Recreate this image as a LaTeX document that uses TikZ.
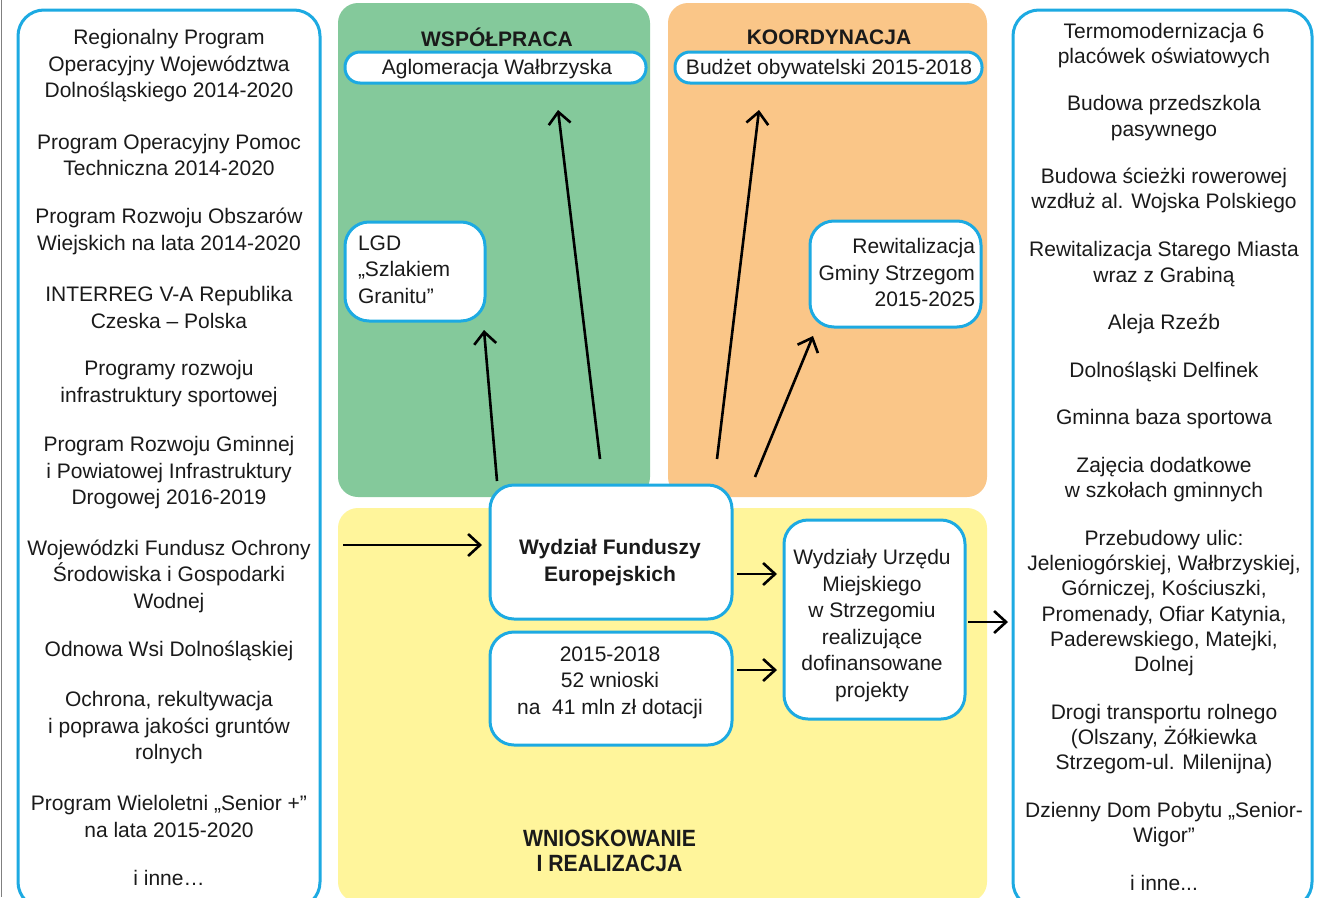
\documentclass[tikz,border=0pt]{standalone}
\usepackage{fontspec}
\usepackage{graphicx}
\setmainfont{Liberation Sans}
\usetikzlibrary{arrows.meta,calc}
\definecolor{cyanb}{HTML}{1DAAE2}
\definecolor{pgreen}{HTML}{84C99B}
\definecolor{porange}{HTML}{FAC688}
\definecolor{pyellow}{HTML}{FFF59B}
\definecolor{txtc}{HTML}{1A1A1A}
\begin{document}
\begin{tikzpicture}[x=1pt,y=-1pt,
  every node/.style={font=\fontsize{21}{26.5}\selectfont, inner sep=0pt, outer sep=0pt, text=txtc},
  panel/.style={rounded corners=20pt, minimum width=#1},
  bigbox/.style={draw=cyanb, line width=3pt, fill=white, rounded corners=26pt, minimum width=#1, minimum height=898pt},
  wbox/.style={draw=cyanb, line width=3pt, fill=white, rounded corners=24pt},
  pill/.style={draw=cyanb, line width=3pt, fill=white, rounded corners=15pt, minimum height=31pt},
  item/.style={align=center, yshift=-2pt},
  ritem/.style={align=center, yshift=-2pt, font=\fontsize{21}{25.2}\selectfont},
  ttl/.style={font=\fontsize{21}{26.5}\selectfont\bfseries, align=center},
  arr/.style={line width=2.6pt, -{Straight Barb[length=12pt,width=22pt]}}
]
\useasboundingbox (0,0) rectangle (1327,897);
\clip (0,0) rectangle (1327,897);
\fill[white] (0,0) rectangle (1327,897);
\draw[gray, line width=1.5pt] (1.5,0) -- (1.5,897);

% panels
\node[panel=312pt, fill=pgreen, minimum height=494pt] (pw) at (494,250) {};
\node[panel=319pt, fill=porange, minimum height=494pt] (pk) at (827.5,250) {};
\node[panel=649pt, fill=pyellow, minimum height=394pt] (pr) at (662.5,705) {};

% outer lists
\node[bigbox=302pt] (lbox) at (169,459) {};
\node[bigbox=299pt] (rbox) at (1162.5,459) {};

% left items
\node[item] (l1) at (169,63.7) {Regionalny Program\\Operacyjny Województwa\\Dolnośląskiego 2014-2020};
\node[item] (l2) at (169,153) {Program Operacyjny Pomoc\\Techniczna 2014-2020};
\node[item] (l3) at (169,229.5) {Program Rozwoju Obszarów\\Wiejskich na lata 2014-2020};
\node[item] (l4) at (169,305.5) {INTERREG V-A Republika\\Czeska – Polska};
\node[item] (l5) at (169,381.5) {Programy rozwoju\\infrastruktury sportowej};
\node[item] (l6) at (169,471) {Program Rozwoju Gminnej\\i Powiatowej Infrastruktury\\Drogowej 2016-2019};
\node[item] (l7) at (169,574) {Wojewódzki Fundusz Ochrony\\Środowiska i Gospodarki\\Wodnej};
\node[item] (l8) at (169,649) {Odnowa Wsi Dolnośląskiej};
\node[item] (l9) at (169,726) {Ochrona, rekultywacja\\i poprawa jakości gruntów\\rolnych};
\node[item] (l10) at (169,814.5) {Program Wieloletni „Senior +”\\na lata 2015-2020};
\node[item] (l11) at (169,876) {i inne…};

% right items
\node[ritem] (r1) at (1164,43.5) {Termomodernizacja 6\\placówek oświatowych};
\node[ritem] (r2) at (1164,116) {Budowa przedszkola\\pasywnego};
\node[ritem] (r3) at (1164,188.5) {Budowa ścieżki rowerowej\\wzdłuż al. Wojska Polskiego};
\node[ritem] (r4) at (1164,262) {Rewitalizacja Starego Miasta\\wraz z Grabiną};
\node[ritem] (r5) at (1164,322) {Aleja Rzeźb};
\node[ritem] (r6) at (1164,370) {Dolnośląski Delfinek};
\node[ritem] (r7) at (1164,417) {Gminna baza sportowa};
\node[ritem] (r8) at (1164,477.5) {Zajęcia dodatkowe\\w szkołach gminnych};
\node[ritem] (r9) at (1164,601) {Przebudowy ulic:\\Jeleniogórskiej, Wałbrzyskiej,\\Górniczej, Kościuszki,\\Promenady, Ofiar Katynia,\\Paderewskiego, Matejki,\\Dolnej};
\node[ritem] (r10) at (1164,737) {Drogi transportu rolnego\\(Olszany, Żółkiewka\\Strzegom-ul. Milenijna)};
\node[ritem] (r11) at (1164,822.5) {Dzienny Dom Pobytu „Senior-\\Wigor”};
\node[ritem] (r12) at (1164,881) {i inne...};

% panel titles
\node[ttl] (tw) at (497,37) {WSPÓŁPRACA};
\node[ttl] (tk) at (829,37) {KOORDYNACJA};
\node[ttl, font=\fontsize{23.5}{25}\selectfont\bfseries] (tr) at (609.5,850.5) {\scalebox{0.9}[1]{WNIOSKOWANIE}\\\scalebox{0.9}[1]{I REALIZACJA}};

% boxes
\node[pill, minimum width=301pt] (agl) at (495.5,67.5) {};
\node (aglt) at (497,69.5) {Aglomeracja Wałbrzyska};
\node[pill, minimum width=307pt] (bud) at (828.5,67.5) {};
\node (budt) at (829,69.5) {Budżet obywatelski 2015-2018};

\node[wbox, minimum width=140pt, minimum height=99pt] (lgd) at (415,271.5) {};
\node[align=left, anchor=west] (lgdt) at (358,269.5) {LGD\\„Szlakiem\\Granitu”};

\node[wbox, minimum width=171pt, minimum height=106pt] (rew) at (895.5,274) {};
\node[align=right, anchor=east] (rewt) at (975,272.5) {Rewitalizacja\\Gminy Strzegom\\2015-2025};

\node[wbox, minimum width=242pt, minimum height=134pt] (wfe) at (611,552) {};
\node[ttl] (wfet) at (610,562.5) {Wydział Funduszy\\Europejskich};

\node[wbox, minimum width=242pt, minimum height=113pt] (stats) at (611,688.5) {};
\node[item] (statst) at (610,680.5) {2015-2018\\52 wnioski\\na\ \ 41 mln zł dotacji};

\node[wbox, minimum width=181pt, minimum height=199pt] (wum) at (874.5,619.5) {};
\node[item] (wumt) at (872,623.5) {Wydziały Urzędu\\Miejskiego\\w Strzegomiu\\realizujące\\dofinansowane\\projekty};

% connectors
\coordinate (inL) at (343,545);
\draw[arr] (inL) -- ($(wfe.west)+(-8,-7)$);
\draw[arr] ($(wfe.east)+(5,22)$) -- ($(wum.west)+(-7,-45.5)$);
\draw[arr] ($(stats.east)+(5,-18.5)$) -- ($(wum.west)+(-7,50.5)$);
\draw[arr] ($(wum.east)+(3,2.5)$) -- ($(rbox.west)+(-5,163)$);
\draw[arr] ($(wfe.north west)+(7,-4)$) -- ($(lgd.south east)+(-1,9)$);
\draw[arr] ($(wfe.north)+(-11,-26)$) -- ($(agl.south)+(62.5,27)$);
\draw[arr] ($(wfe.north east)+(-15,-26)$) -- ($(bud.south)+(-69.5,27)$);
\draw[arr] ($(wfe.north east)+(23,-8)$) -- ($(rew.south west)+(3,9)$);
\end{tikzpicture}
\end{document}
